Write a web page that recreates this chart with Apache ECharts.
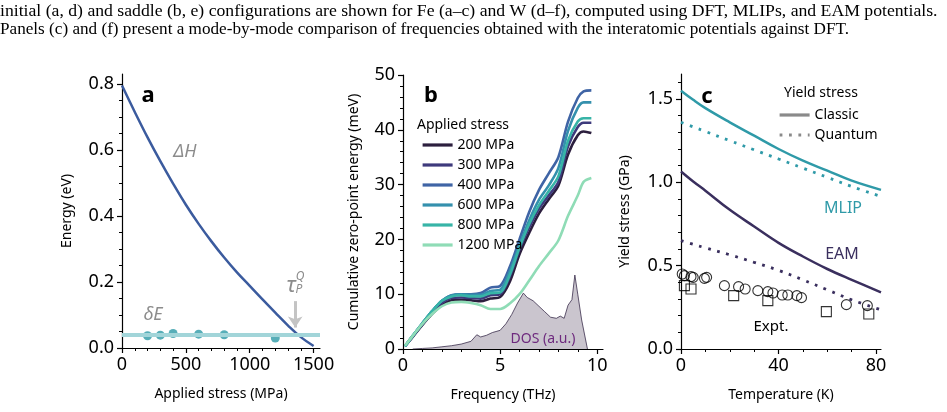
<!DOCTYPE html>
<html>
<head>
<meta charset="utf-8">
<script src="https://cdn.jsdelivr.net/npm/echarts@6/dist/echarts.min.js"></script>
<style>
  html, body { margin: 0; padding: 0; background: #fff; }
  #chart { width: 947px; height: 412px; }
</style>
</head>
<body>
<div id="chart"></div>
<script>
// ---- panel a: barrier vs applied stress
const aStress = [0, 100, 200, 300, 400, 500, 600, 700, 800, 900, 1000, 1100, 1200, 1300, 1400, 1500];
const aDeltaH = [0.795, 0.715, 0.638, 0.566, 0.498, 0.434, 0.376, 0.323, 0.274, 0.229, 0.188, 0.147, 0.107, 0.068, 0.033, 0.006];
const aDotStress = [200, 300, 400, 600, 800, 1200];
const aDotE = [0.037, 0.039, 0.044, 0.042, 0.040, 0.030];
const aDeltaELevel = 0.04;
const aXTicks = [0, 500, 1000, 1500];
const aXMinor = [100, 200, 300, 400, 600, 700, 800, 900, 1100, 1200, 1300, 1400];
const aYTicks = [0, 0.2, 0.4, 0.6, 0.8];
const aYMinor = [0.05, 0.1, 0.15, 0.25, 0.3, 0.35, 0.45, 0.5, 0.55, 0.65, 0.7, 0.75];

// ---- panel b: cumulative zero-point energy
const bFreq = [0.1, 0.5, 1, 1.5, 2, 2.5, 3, 3.5, 4, 4.5, 5, 5.5, 6, 6.5, 7, 7.5, 8, 8.5, 9, 9.3, 9.7];
const bStressNames = ['200 MPa', '300 MPa', '400 MPa', '600 MPa', '800 MPa', '1200 MPa'];
const b200 = [0.5, 2.2, 4.4, 6.4, 8.0, 8.9, 9.0, 8.9, 8.7, 9.2, 9.5, 12.3, 17.3, 21.2, 24.7, 27.3, 29.8, 35.5, 39.0, 39.7, 39.4];
const b300 = [0.5, 2.3, 4.5, 6.6, 8.4, 9.3, 9.4, 9.3, 9.2, 9.8, 10.0, 13.2, 18.2, 22.2, 25.6, 28.0, 30.5, 37.0, 40.5, 41.3, 41.3];
const b400 = [0.5, 2.4, 4.7, 6.9, 8.8, 9.8, 10.0, 10.0, 10.2, 11.2, 11.5, 15.0, 20.0, 25.0, 29.0, 32.0, 35.0, 41.5, 45.8, 47.0, 47.2];
const b600 = [0.5, 2.4, 4.7, 6.9, 8.8, 9.8, 10.0, 9.9, 9.9, 10.6, 10.8, 14.2, 19.0, 23.5, 27.2, 29.8, 33.0, 39.8, 44.0, 45.0, 45.0];
const b800 = [0.5, 2.4, 4.7, 6.9, 8.8, 9.6, 9.8, 9.6, 9.6, 10.2, 10.3, 13.5, 18.5, 22.8, 26.2, 28.8, 31.5, 38.0, 41.5, 42.1, 42.1];
const b1200 = [0.6, 2.4, 4.6, 6.4, 7.8, 8.5, 8.6, 8.4, 8.0, 7.3, 7.3, 8.3, 10.0, 12.5, 15.1, 17.4, 19.8, 24.3, 28.0, 30.5, 31.2];
const bDosFreq = [0.5, 1, 1.5, 2, 2.5, 3, 3.5, 3.8, 4.0, 4.3, 4.6, 5.0, 5.3, 5.6, 5.9, 6.2, 6.4, 6.7, 7.0, 7.3, 7.6, 7.9, 8.1, 8.3, 8.5, 8.7, 8.85, 9.0, 9.2, 9.5];
const bDos = [0, 0.1, 0.2, 0.4, 0.6, 0.9, 1.4, 2.6, 2.2, 2.5, 3.0, 3.4, 4.6, 6.3, 8.4, 10.2, 9.4, 8.8, 7.8, 6.8, 5.8, 5.6, 6.0, 5.6, 8.0, 9.0, 13.5, 10.0, 5.3, 0];
const bXTicks = [0, 5, 10];
const bXMinor = [1, 2, 3, 4, 6, 7, 8, 9];
const bYTicks = [0, 10, 20, 30, 40, 50];
const bYMinor = [2, 4, 6, 8, 12, 14, 16, 18, 22, 24, 26, 28, 32, 34, 36, 38, 42, 44, 46, 48];

// ---- panel c: yield stress vs temperature
const cTemp = [0, 5, 10, 20, 30, 40, 50, 60, 70, 82];
const cMlipClassic = [1.55, 1.495, 1.445, 1.36, 1.28, 1.20, 1.13, 1.07, 1.01, 0.955];
const cMlipQuantum = [1.36, 1.333, 1.305, 1.25, 1.195, 1.14, 1.085, 1.03, 0.975, 0.915];
const cEamClassic = [1.065, 1.005, 0.95, 0.835, 0.735, 0.637, 0.555, 0.48, 0.415, 0.34];
const cEamQuantum = [0.65, 0.628, 0.607, 0.565, 0.52, 0.472, 0.415, 0.355, 0.295, 0.235];
const cCircT = [0.5, 1.4, 4.1, 5.0, 9.6, 10.5, 17.8, 23.6, 26.3, 31.5, 35.6, 37.7, 41.5, 43.8, 47.5, 49.4, 67.8, 76.4];
const cCircY = [0.45, 0.44, 0.434, 0.43, 0.424, 0.43, 0.38, 0.374, 0.36, 0.35, 0.344, 0.336, 0.324, 0.324, 0.32, 0.308, 0.266, 0.26];
const cSqT = [1.4, 4.1, 21.6, 35.6, 59.6, 77];
const cSqY = [0.38, 0.36, 0.32, 0.29, 0.224, 0.21];
const cXTicks = [0, 40, 80];
const cXMinor = [10, 20, 30, 50, 60, 70];
const cYTicks = [0, 0.5, 1.0, 1.5];
const cYMinor = [0.1, 0.2, 0.3, 0.4, 0.6, 0.7, 0.8, 0.9, 1.1, 1.2, 1.3, 1.4, 1.6];

const FONT = 'Noto Sans';
const stressColors = ['#2c1f3e', '#3e3a7c', '#3f64a5', '#3490ad', '#37b4a7', '#8fdcb6'];
const bSeriesData = [b200, b300, b400, b600, b800, b1200];

function pairs(xs, ys) {
  return xs.map((x, i) => [x, ys[i]]);
}

function axisPair(dim, grid, min, max, majors, minors, fmt, name, gap) {
  const major = {
    type: 'value', gridIndex: grid, min: min, max: max,
    position: dim === 'x' ? 'bottom' : 'left',
    axisLine: { show: true, onZero: false, lineStyle: { color: '#000', width: 1.2 } },
    axisTick: { show: true, length: 5, customValues: majors, lineStyle: { color: '#000', width: 1.2 } },
    axisLabel: {
      customValues: majors, formatter: fmt, fontFamily: FONT, fontSize: 18, color: '#000', margin: 8
    },
    splitLine: { show: false },
    name: name, nameLocation: 'middle', nameGap: gap,
    nameTextStyle: { fontFamily: FONT, fontSize: 14, color: '#000' }
  };
  const minor = {
    type: 'value', gridIndex: grid, min: min, max: max,
    position: dim === 'x' ? 'bottom' : 'left',
    axisLine: { show: false, onZero: false },
    axisTick: { show: true, length: 3, customValues: minors, lineStyle: { color: '#000', width: 1 } },
    axisLabel: { show: false },
    splitLine: { show: false }
  };
  return [major, minor];
}

const fmt1 = v => v.toFixed(1);
const fmt0 = v => String(v);

const xAxes = [].concat(
  axisPair('x', 0, 0, 1550, aXTicks, aXMinor, fmt0, 'Applied stress (MPa)', 39),
  axisPair('x', 1, 0, 10.3, bXTicks, bXMinor, fmt0, 'Frequency (THz)', 39),
  axisPair('x', 2, 0, 82, cXTicks, cXMinor, fmt0, 'Temperature (K)', 39)
);
const yAxes = [].concat(
  axisPair('y', 0, 0, 0.83, aYTicks, aYMinor, fmt1, 'Energy (eV)', 48),
  axisPair('y', 1, 0, 50, bYTicks, bYMinor, fmt0, 'Cumulative zero-point energy (meV)', 42),
  axisPair('y', 2, 0, 1.65, cYTicks, cYMinor, fmt1, 'Yield stress (GPa)', 49)
);

const series = [];
// panel a
series.push({
  name: 'ΔH', type: 'line', xAxisIndex: 0, yAxisIndex: 0,
  data: pairs(aStress, aDeltaH), smooth: 0.4, symbol: 'none',
  lineStyle: { color: '#3b5b9e', width: 2.5 }, z: 3,
  markLine: {
    silent: true, symbol: ['none', 'arrow'], symbolSize: [11, 11],
    lineStyle: { color: '#c4c4c4', width: 3, type: 'solid' },
    label: { show: false },
    data: [[{ coord: [1356, 0.142] }, { coord: [1356, 0.062] }]]
  }
});
series.push({
  name: 'δE', type: 'line', xAxisIndex: 0, yAxisIndex: 0, data: [], symbol: 'none',
  markLine: {
    silent: true, symbol: ['none', 'none'], label: { show: false },
    lineStyle: { color: '#a2d5d9', width: 4, type: 'solid' },
    data: [{ yAxis: aDeltaELevel }]
  }, z: 1
});
series.push({
  name: 'δE points', type: 'scatter', xAxisIndex: 0, yAxisIndex: 0,
  data: pairs(aDotStress, aDotE), symbolSize: 9,
  itemStyle: { color: '#2d9aa6' }, z: 4
});
// panel b
series.push({
  name: 'DOS', type: 'line', xAxisIndex: 2, yAxisIndex: 2,
  data: pairs(bDosFreq, bDos), symbol: 'none',
  lineStyle: { color: '#3b2f4d', width: 0.8 },
  areaStyle: { color: '#cac5ce', opacity: 1 }, z: 1
});
bStressNames.forEach((nm, i) => {
  series.push({
    name: nm, type: 'line', xAxisIndex: 2, yAxisIndex: 2,
    data: pairs(bFreq, bSeriesData[i]), smooth: 0.3, symbol: 'none',
    lineStyle: { color: stressColors[i], width: 2.6 },
    itemStyle: { color: stressColors[i] }, z: 3
  });
});
// panel c
const mlipColor = '#2f9aa8', eamColor = '#3a2f5e';
const dots = [2.8, 6.6];
const smoothC = { smooth: 0.4, symbol: 'none', xAxisIndex: 4, yAxisIndex: 4, type: 'line' };
series.push(Object.assign({
  name: 'MLIP classic', data: pairs(cTemp, cMlipClassic),
  lineStyle: { color: mlipColor, width: 2.5 }
}, smoothC));
series.push(Object.assign({
  name: 'MLIP quantum', data: pairs(cTemp, cMlipQuantum),
  lineStyle: { color: mlipColor, width: 2.8, type: dots, cap: 'butt' }
}, smoothC));
series.push(Object.assign({
  name: 'EAM classic', data: pairs(cTemp, cEamClassic),
  lineStyle: { color: eamColor, width: 2.5 }
}, smoothC));
series.push(Object.assign({
  name: 'EAM quantum', data: pairs(cTemp, cEamQuantum),
  lineStyle: { color: eamColor, width: 2.8, type: dots, cap: 'butt' }
}, smoothC));
series.push({
  name: 'Expt. circles', type: 'scatter', xAxisIndex: 4, yAxisIndex: 4,
  data: pairs(cCircT, cCircY), symbol: 'circle', symbolSize: 10,
  itemStyle: { color: 'rgba(255,255,255,0)', borderColor: '#000', borderWidth: 1.1 }
});
series.push({
  name: 'Expt. squares', type: 'scatter', xAxisIndex: 4, yAxisIndex: 4,
  data: pairs(cSqT, cSqY), symbol: 'rect', symbolSize: 10,
  itemStyle: { color: 'rgba(255,255,255,0)', borderColor: '#000', borderWidth: 1.1 }
});
// legend-only series for the line style key
series.push({
  name: 'Classic', type: 'line', xAxisIndex: 4, yAxisIndex: 4, data: [], symbol: 'none',
  itemStyle: { color: '#8a8a8a' }, lineStyle: { color: '#8a8a8a', width: 2.8 }
});
series.push({
  name: 'Quantum', type: 'line', xAxisIndex: 4, yAxisIndex: 4, data: [], symbol: 'none',
  itemStyle: { color: '#8a8a8a' }, lineStyle: { color: '#8a8a8a', width: 2.8, type: dots, cap: 'butt' }
});

const gray = '#8c8c8c';
function txt(x, y, s, size, color, extra, elExtra) {
  return Object.assign({
    type: 'text', x: x, y: y, z: 100, silent: true,
    style: Object.assign({
      text: s, fontFamily: FONT, fontSize: size, fill: color,
      align: 'center', verticalAlign: 'middle'
    }, extra || {})
  }, elExtra || {});
}

const legendBase = {
  orient: 'vertical', itemWidth: 30, itemHeight: 14, itemGap: 4, selectedMode: false,
  itemStyle: { opacity: 0 },
  lineStyle: { width: 3.2 },
  textStyle: { fontFamily: FONT, fontSize: 14, color: '#000', lineHeight: 16 }
};

const chart = echarts.init(document.getElementById('chart'), null, { renderer: 'canvas' });
chart.setOption({
  animation: false,
  backgroundColor: '#fff',
  grid: [
    { left: 122, top: 74, width: 198, height: 274 },
    { left: 403, top: 75, width: 200, height: 274 },
    { left: 681, top: 74, width: 200, height: 275 }
  ],
  xAxis: xAxes,
  yAxis: yAxes,
  legend: [
    Object.assign({}, legendBase, { data: bStressNames, left: 416, top: 132 }),
    Object.assign({}, legendBase, { data: ['Classic', 'Quantum'], left: 773, top: 102 })
  ],
  series: series,
  graphic: [
    txt(0, 12, 'initial (a, d) and saddle (b, e) configurations are shown for Fe (a–c) and W (d–f), computed using DFT, MLIPs, and EAM potentials.', 16, '#000', { fontFamily: 'Liberation Serif', align: 'left' }, { scaleX: 1.105 }),
    txt(0, 30, 'Panels (c) and (f) present a mode-by-mode comparison of frequencies obtained with the interatomic potentials against DFT.', 16, '#000', { fontFamily: 'Liberation Serif', align: 'left' }, { scaleX: 1.072 }),
    txt(148, 96, 'a', 22, '#000', { fontWeight: 'bold' }),
    txt(431, 96, 'b', 22, '#000', { fontWeight: 'bold' }),
    txt(707, 97, 'c', 22, '#000', { fontWeight: 'bold' }),
    txt(185, 152, 'ΔH', 18, gray, { fontStyle: 'italic' }),
    txt(153, 315, 'δE', 18, gray, { fontStyle: 'italic' }),
    txt(291, 286, 'τ', 22, gray, { fontStyle: 'italic' }),
    txt(300, 277, 'Q', 12, gray, { fontStyle: 'italic' }),
    txt(299, 290, 'P', 12, gray, { fontStyle: 'italic' }),
    txt(463, 125, 'Applied stress', 14, '#000'),
    txt(543, 339, 'DOS (a.u.)', 14, '#6e2a7e'),
    txt(821, 93, 'Yield stress', 14, '#000'),
    txt(843, 208, 'MLIP', 16, mlipColor),
    txt(842, 254, 'EAM', 16, eamColor),
    txt(771, 327, 'Expt.', 15, '#000')
  ]
});
</script>
</body>
</html>
